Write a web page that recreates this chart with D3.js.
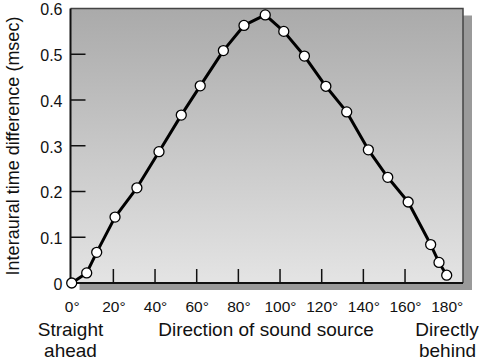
<!DOCTYPE html>
<html><head><meta charset="utf-8">
<script src="https://cdn.jsdelivr.net/npm/d3@7"></script>
<style>body{margin:0;background:#fff}svg{display:block}text{font-family:"Liberation Sans",Arial,sans-serif;fill:#111}</style>
</head><body>
<script>
const angles = [0, 7.2, 12, 20.8, 31.3, 41.9, 52.6, 61.7, 72.8, 82.7, 92.9, 101.8, 111.7, 122, 132, 142.4, 151.7, 161.5, 172.3, 176.3, 180];
const itd = [0, 0.022, 0.067, 0.144, 0.208, 0.287, 0.367, 0.431, 0.508, 0.563, 0.586, 0.550, 0.496, 0.430, 0.374, 0.291, 0.231, 0.177, 0.084, 0.045, 0.017];
const xTicks = [0, 20, 40, 60, 80, 100, 120, 140, 160, 180];
const yTicks = [0, 0.1, 0.2, 0.3, 0.4, 0.5, 0.6];

const W = 480, H = 362;
const svg = d3.select("body").append("svg").attr("width", W).attr("height", H);
const L = 70.5, R = 463, T = 8.5, B = 283;
const x = d3.scaleLinear().domain([0, 180]).range([71.7, 446.7]);
const y = d3.scaleLinear().domain([0, 0.6]).range([B, T]);

const defs = svg.append("defs");
const g = defs.append("linearGradient").attr("id", "bg").attr("x1", 0).attr("y1", 0).attr("x2", 0).attr("y2", 1);
g.append("stop").attr("offset", 0).attr("stop-color", "#aaaaaa");
g.append("stop").attr("offset", 1).attr("stop-color", "#e4e4e4");

// shadow
svg.append("rect").attr("x", L + 9).attr("y", T + 7).attr("width", R - L).attr("height", B - T).attr("fill", "#9a9a9a");
// plot background
svg.append("rect").attr("x", L).attr("y", T).attr("width", R - L).attr("height", B - T).attr("fill", "url(#bg)");
// top/right frame
svg.append("path").attr("d", `M${L},${T}H${R}V${B}`).attr("fill", "none").attr("stroke", "#444").attr("stroke-width", 1.5);

// y axis
const yAxis = d3.axisLeft(y).tickValues(yTicks).tickSize(0).tickPadding(8).tickFormat(d => d === 0 ? "0" : d3.format(".1f")(d));
const ya = svg.append("g").attr("transform", `translate(${L},0)`).call(yAxis);
ya.select(".domain").remove();
ya.selectAll("text").style("font-size", "16px").attr("fill", "#111").attr("dy", "0.4em");
svg.append("g").selectAll("line").data(yTicks.filter(d => d > 0 && d < 0.6)).join("line")
  .attr("x1", L).attr("x2", L + 15).attr("y1", d => y(d)).attr("y2", d => y(d)).attr("stroke", "#111").attr("stroke-width", 1.5);

// x axis
const xAxis = d3.axisBottom(x).tickValues(xTicks).tickSize(0).tickPadding(18).tickFormat(d => d + "°");
const xa = svg.append("g").attr("transform", `translate(0,${B})`).call(xAxis);
xa.select(".domain").remove();
xa.selectAll("text").style("font-size", "15.5px").attr("fill", "#111");
svg.append("g").selectAll("line").data(xTicks.filter(d => d > 0 && d < 180)).join("line")
  .attr("x1", d => x(d)).attr("x2", d => x(d)).attr("y1", B).attr("y2", B - 14).attr("stroke", "#111").attr("stroke-width", 1.5);

// axis lines
svg.append("path").attr("d", `M${L},${T}V${B}H${R}`).attr("fill", "none").attr("stroke", "#111").attr("stroke-width", 2);

// data line
const pts = angles.map((a, i) => [a, itd[i]]);
svg.append("path").datum(pts).attr("d", d3.line().x(d => x(d[0])).y(d => y(d[1])))
  .attr("fill", "none").attr("stroke", "#000").attr("stroke-width", 3).attr("stroke-linejoin", "round");
svg.append("g").selectAll("circle").data(pts).join("circle")
  .attr("cx", d => x(d[0])).attr("cy", d => y(d[1])).attr("r", 5)
  .attr("fill", "#fff").attr("stroke", "#000").attr("stroke-width", 1.3);

// labels
const fs = "19px";
svg.append("text").attr("x", 70.5).attr("y", 336).attr("text-anchor", "middle").style("font-size", fs).text("Straight");
svg.append("text").attr("x", 70.5).attr("y", 357).attr("text-anchor", "middle").style("font-size", fs).text("ahead");
svg.append("text").attr("x", 266).attr("y", 336).attr("text-anchor", "middle").style("font-size", fs).text("Direction of sound source");
svg.append("text").attr("x", 447).attr("y", 336).attr("text-anchor", "middle").style("font-size", fs).text("Directly");
svg.append("text").attr("x", 447.5).attr("y", 357).attr("text-anchor", "middle").style("font-size", fs).text("behind");
svg.append("text").attr("transform", "translate(19,146) rotate(-90)").attr("text-anchor", "middle").style("font-size", "18px").text("Interaural time difference (msec)");
</script>
</body></html>
